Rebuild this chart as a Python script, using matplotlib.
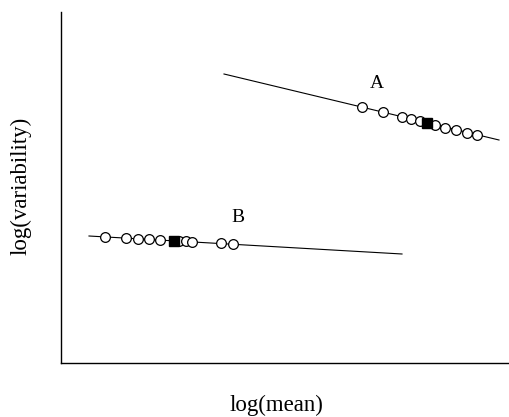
import matplotlib.pyplot as plt
import matplotlib as mpl

# values (arbitrary log units)
a_x = [3.01, 3.22, 3.41, 3.50, 3.59, 3.66, 3.74, 3.84, 3.95, 4.06, 4.16]
a_y = [2.56, 2.51, 2.46, 2.44, 2.42, 2.40, 2.38, 2.35, 2.33, 2.30, 2.28]
a_filled = 5
a_line_x = [1.63, 4.38]
a_line_y = [2.89, 2.23]

b_x = [0.44, 0.65, 0.77, 0.88, 0.99, 1.13, 1.18, 1.25, 1.31, 1.60, 1.72]
b_y = [1.26, 1.25, 1.24, 1.24, 1.23, 1.22, 1.22, 1.22, 1.21, 1.20, 1.19]
b_filled = 5
b_line_x = [0.28, 3.41]
b_line_y = [1.27, 1.09]

mpl.rc('font', family='Liberation Serif')
fig = plt.figure(figsize=(5.09, 4.17), dpi=100)
ax = fig.add_axes([61/509, 54/417, 448/509, 351/417])

for lx, ly, px, py, fi in [(a_line_x, a_line_y, a_x, a_y, a_filled),
                           (b_line_x, b_line_y, b_x, b_y, b_filled)]:
    ax.plot(lx, ly, color='black', lw=0.8, zorder=1)
    ox = [v for i, v in enumerate(px) if i != fi]
    oy = [v for i, v in enumerate(py) if i != fi]
    ax.plot(ox, oy, 'o', ms=7, mfc='white', mec='black', mew=0.9, zorder=2)
    ax.plot(px[fi], py[fi], 's', ms=6.5, mfc='black', mec='black', zorder=3)

ax.text(3.16, 2.80, 'A', fontsize=14, ha='center', va='center')
ax.text(1.77, 1.45, 'B', fontsize=14, ha='center', va='center')

ax.set_xlim(0, 4.48)
ax.set_ylim(0, 3.51)
ax.spines['top'].set_visible(False)
ax.spines['right'].set_visible(False)
ax.spines['left'].set_linewidth(1.0)
ax.spines['bottom'].set_linewidth(1.0)
ax.set_xticks([])
ax.set_yticks([])

fig.text(276/509, 1 - 405/417, 'log(mean)', fontsize=16.5, ha='center', va='center')
fig.text(21/509, 1 - 186/417, 'log(variability)', fontsize=16.5, ha='center', va='center', rotation=90)

plt.savefig('out.png', dpi=100)
